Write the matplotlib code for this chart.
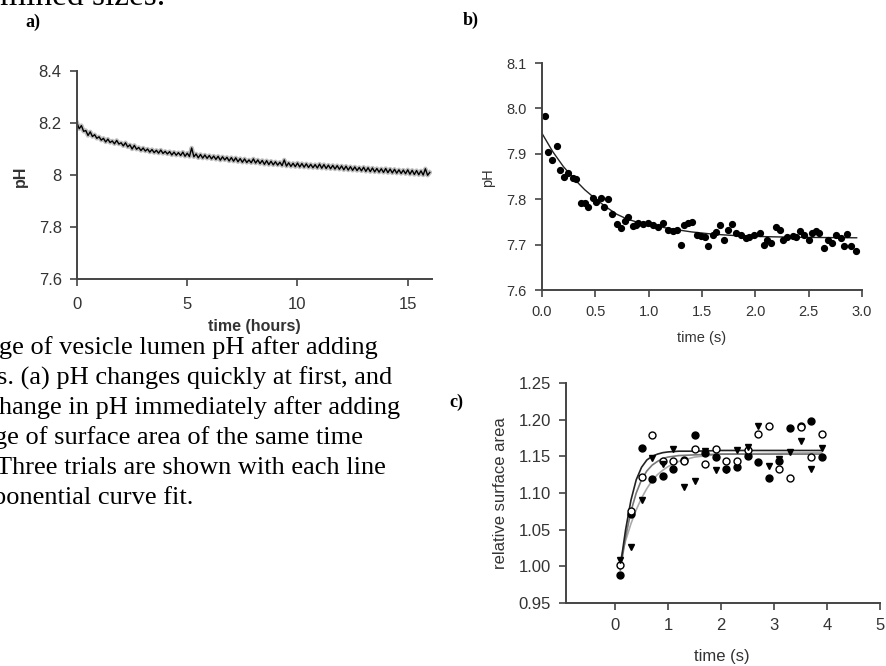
import matplotlib.pyplot as plt
import numpy as np

plt.rcParams['font.family'] = ['Liberation Sans', 'DejaVu Sans']

############ data: panel a (pH over hours) ############
a_hours = np.round(np.arange(0, 16.01, 0.1), 1)
a_ph = [8.200, 8.178, 8.190, 8.168, 8.171, 8.152, 8.166, 8.148, 8.155, 8.141,
        8.147, 8.134, 8.141, 8.127, 8.138, 8.125, 8.131, 8.120, 8.133, 8.119,
        8.124, 8.112, 8.124, 8.108, 8.116, 8.100, 8.114, 8.099, 8.106, 8.094,
        8.104, 8.092, 8.100, 8.088, 8.098, 8.086, 8.095, 8.084, 8.096, 8.083,
        8.091, 8.081, 8.090, 8.077, 8.088, 8.076, 8.086, 8.075, 8.088, 8.072,
        8.084, 8.071, 8.104, 8.070, 8.081, 8.066, 8.079, 8.065, 8.077, 8.064,
        8.075, 8.062, 8.073, 8.060, 8.072, 8.057, 8.070, 8.058, 8.068, 8.054,
        8.067, 8.053, 8.066, 8.051, 8.063, 8.049, 8.062, 8.048, 8.058, 8.047,
        8.062, 8.046, 8.058, 8.044, 8.056, 8.041, 8.055, 8.040, 8.053, 8.039,
        8.051, 8.038, 8.049, 8.036, 8.058, 8.034, 8.047, 8.033, 8.045, 8.032,
        8.046, 8.031, 8.044, 8.030, 8.043, 8.029, 8.041, 8.028, 8.040, 8.027,
        8.042, 8.026, 8.040, 8.025, 8.038, 8.024, 8.037, 8.023, 8.036, 8.022,
        8.035, 8.020, 8.034, 8.019, 8.032, 8.018, 8.031, 8.017, 8.029, 8.016,
        8.030, 8.014, 8.028, 8.013, 8.027, 8.012, 8.025, 8.011, 8.024, 8.010,
        8.025, 8.009, 8.023, 8.008, 8.022, 8.007, 8.020, 8.006, 8.019, 8.005,
        8.020, 8.003, 8.018, 8.002, 8.017, 8.001, 8.016, 8.000, 8.024, 7.999,
        8.010]
a_yticks = [7.6, 7.8, 8.0, 8.2, 8.4]
a_ylabels = ['7.6', '7.8', '8', '8.2', '8.4']
a_xticks = [0, 5, 10, 15]

############ data: panel b (pH over seconds) ############
b_time = [0.03, 0.06, 0.09, 0.14, 0.17, 0.21, 0.24, 0.29, 0.32, 0.37,
          0.40, 0.43, 0.48, 0.51, 0.55, 0.58, 0.62, 0.66, 0.70, 0.74,
          0.78, 0.81, 0.85, 0.88, 0.90, 0.95, 0.99, 1.04, 1.09, 1.13,
          1.18, 1.23, 1.27, 1.30, 1.33, 1.37, 1.41, 1.45, 1.49, 1.53,
          1.56, 1.60, 1.63, 1.67, 1.71, 1.74, 1.78, 1.82, 1.87, 1.91,
          1.94, 1.99, 2.04, 2.08, 2.11, 2.15, 2.19, 2.23, 2.26, 2.30,
          2.35, 2.38, 2.42, 2.46, 2.50, 2.53, 2.57, 2.60, 2.64, 2.68,
          2.72, 2.76, 2.80, 2.83, 2.86, 2.90, 2.94]
b_ph = [7.984, 7.904, 7.886, 7.917, 7.864, 7.848, 7.857, 7.846, 7.844, 7.792,
        7.791, 7.783, 7.802, 7.794, 7.802, 7.782, 7.800, 7.767, 7.745, 7.736,
        7.752, 7.760, 7.741, 7.743, 7.747, 7.745, 7.747, 7.743, 7.739, 7.748,
        7.732, 7.731, 7.732, 7.700, 7.743, 7.747, 7.749, 7.721, 7.719, 7.716,
        7.696, 7.721, 7.728, 7.744, 7.710, 7.732, 7.745, 7.725, 7.721, 7.714,
        7.717, 7.721, 7.725, 7.699, 7.711, 7.704, 7.739, 7.732, 7.711, 7.716,
        7.719, 7.716, 7.731, 7.721, 7.710, 7.726, 7.731, 7.725, 7.693, 7.710,
        7.704, 7.721, 7.714, 7.696, 7.723, 7.696, 7.686]
b_fit_t = [0.0, 0.1, 0.2, 0.3, 0.4, 0.5, 0.6, 0.7, 0.8, 0.9, 1.0, 1.2, 1.4, 1.6, 1.8, 2.0, 2.4, 2.95]
b_fit_ph = [7.945, 7.905, 7.872, 7.845, 7.821, 7.801, 7.783, 7.767, 7.756, 7.749, 7.744,
            7.735, 7.728, 7.723, 7.720, 7.718, 7.716, 7.715]
b_yticks = [7.6, 7.7, 7.8, 7.9, 8.0, 8.1]
b_xticks = [0.0, 0.5, 1.0, 1.5, 2.0, 2.5, 3.0]

############ data: panel c (relative surface area) ############
c_time = [0.1, 0.3, 0.5, 0.7, 0.9, 1.1, 1.3, 1.5, 1.7, 1.9,
          2.1, 2.3, 2.5, 2.7, 2.9, 3.1, 3.3, 3.5, 3.7, 3.9]
c_filled = [0.988, 1.072, 1.161, 1.119, 1.123, 1.133, 1.145, 1.179, 1.155, 1.149,
            1.133, 1.135, 1.150, 1.142, 1.121, 1.144, 1.189, 1.192, 1.198, 1.149]
c_open = [1.002, 1.075, 1.122, 1.179, 1.143, 1.143, 1.143, 1.160, 1.139, 1.160,
          1.143, 1.143, 1.158, 1.181, 1.191, 1.133, 1.121, 1.190, 1.149, 1.181]
c_tri = [1.008, 1.026, 1.091, 1.148, 1.140, 1.160, 1.108, 1.116, 1.157, 1.132,
         1.132, 1.158, 1.163, 1.191, 1.137, 1.147, 1.156, 1.171, 1.133, 1.161]
c_fit_t = [0.1, 0.2, 0.3, 0.4, 0.5, 0.6, 0.7, 0.8, 0.9, 1.0, 1.2, 1.5, 2.0, 3.9]
c_fit_open = [1.000, 1.050, 1.090, 1.118, 1.135, 1.145, 1.150, 1.153, 1.155, 1.156, 1.157, 1.157, 1.158, 1.158]
c_fit_filled = [0.995, 1.040, 1.075, 1.100, 1.118, 1.130, 1.138, 1.143, 1.147, 1.149, 1.151, 1.152, 1.153, 1.153]
c_fit_tri = [1.008, 1.035, 1.058, 1.077, 1.093, 1.106, 1.117, 1.125, 1.131, 1.136, 1.143, 1.149, 1.153, 1.155]
c_yticks = [0.95, 1.00, 1.05, 1.10, 1.15, 1.20, 1.25]
c_xticks = [0, 1, 2, 3, 4, 5]

caption = ["ge of vesicle lumen pH after adding",
           "s. (a) pH changes quickly at first, and",
           "hange in pH immediately after adding",
           "ge of surface area of the same time",
           "Three trials are shown with each line",
           "ponential curve fit."]
caption_end = [378, 392, 400, 363, 386, 193]

W, H = 886, 666
AX = '#444444'


def box(l, t, r, b):
    """pixel box -> figure fraction rect"""
    return [l / W, 1 - b / H, (r - l) / W, (b - t) / H]


def style(ax, size, pad=6):
    for s in ['top', 'right']:
        ax.spines[s].set_visible(False)
    for s in ['left', 'bottom']:
        ax.spines[s].set_color(AX)
        ax.spines[s].set_linewidth(1.4)
    ax.tick_params(direction='out', length=5, width=1.2, color=AX,
                   labelcolor='#333333', labelsize=size, pad=pad)


fig = plt.figure(figsize=(W / 100, H / 100), dpi=100)

# panel a
ax0 = fig.add_axes(box(77, 71, 432, 279))
ax0.plot(a_hours, a_ph, color='#8a8a8a', lw=3.2, alpha=0.55)
ax0.plot(a_hours, a_ph, color='black', lw=1.0)
ax0.set_xlim(0, 16.1)
ax0.set_ylim(7.6, 8.4)
ax0.set_yticks(a_yticks)
ax0.set_yticklabels(a_ylabels)
ax0.set_xticks(a_xticks)
style(ax0, 12)
ax0.tick_params(axis='x', pad=8)

# panel b
ax1 = fig.add_axes(box(542, 63, 862, 290))
ax1.plot(b_fit_t, b_fit_ph, color='#222222', lw=1.0)
ax1.plot(b_time, b_ph, 'o', color='black', ms=4.2)
ax1.set_xlim(0, 3.0)
ax1.set_ylim(7.6, 8.1)
ax1.set_yticks(b_yticks)
ax1.set_yticklabels(['%.1f' % v for v in b_yticks])
ax1.set_xticks(b_xticks)
ax1.set_xticklabels(['%.1f' % v for v in b_xticks])
style(ax1, 10.5)

# panel c
ax2 = fig.add_axes(box(566, 383, 880, 603))
ax2.plot(c_fit_t, c_fit_tri, color='#aaaaaa', lw=1.2)
ax2.plot(c_fit_t, c_fit_filled, color='#777777', lw=1.2)
ax2.plot(c_fit_t, c_fit_open, color='#222222', lw=1.2)
ax2.plot(c_time, c_filled, 'o', color='black', ms=5)
ax2.plot(c_time, c_open, 'o', mfc='white', mec='black', mew=1.0, ms=5)
ax2.plot(c_time, c_tri, 'v', color='black', ms=5)
ax2.set_xlim(-0.925, 5.0)
ax2.set_ylim(0.95, 1.25)
ax2.set_yticks(c_yticks)
ax2.set_yticklabels(['%.2f' % v for v in c_yticks])
ax2.set_xticks(c_xticks)
style(ax2, 12)

# axis titles
fig.text(20 / W, 1 - 176 / H, 'pH', rotation=90, ha='center', va='center',
         fontsize=11.5, fontweight='bold', color='#333333')
fig.text(254 / W, 1 - 326 / H, 'time (hours)', ha='center', va='center',
         fontsize=11.5, fontweight='bold', color='#333333')
fig.text(488 / W, 1 - 178 / H, 'pH', rotation=90, ha='center', va='center',
         fontsize=10.5, color='#333333')
fig.text(702 / W, 1 - 338 / H, 'time (s)', ha='center', va='center',
         fontsize=10.5, color='#333333')
fig.text(500 / W, 1 - 493 / H, 'relative surface area', rotation=90, ha='center',
         va='center', fontsize=12, color='#333333')
fig.text(722 / W, 1 - 657 / H, 'time (s)', ha='center', va='center',
         fontsize=12, color='#333333')

# panel letters
serif = ['Liberation Serif', 'DejaVu Serif']
for lab, x, y in [('a)', 33, 22), ('b)', 471, 20), ('c)', 456, 402)]:
    fig.text(x / W, 1 - y / H, lab, ha='center', va='center', family=serif,
             fontsize=13, fontweight='bold')

# surrounding document text (cut off at the edges)
fig.text(165 / W, 1 - 5 / H, 'rmined sizes.', ha='right', va='baseline',
         family=serif, fontsize=24)
for i, line in enumerate(caption):
    fig.text(caption_end[i] / W, 1 - (348 + 30 * i) / H, line, ha='right',
             va='center', family=serif, fontsize=19)

fig.savefig('out.png', dpi=100)
